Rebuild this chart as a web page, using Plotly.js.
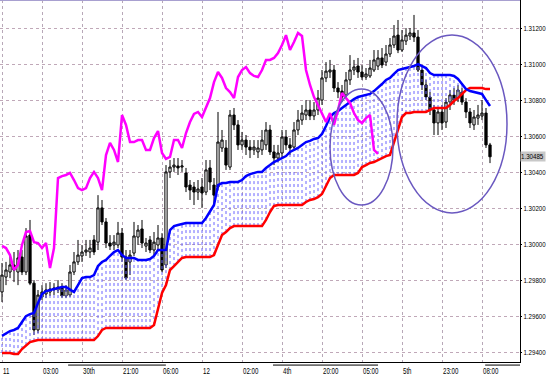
<!DOCTYPE html>
<html>
<head>
<meta charset="utf-8">
<script src="https://cdn.plot.ly/plotly-3.0.1.min.js"></script>
<style>html,body{margin:0;padding:0;background:#fff;}#chart{width:548px;height:378px;}</style>
</head>
<body>
<div id="chart"></div>
<script>
// ---- data ----
const barOpen = [1.29734,1.29817,1.29845,1.29884,1.29845,1.29928,1.29845,1.30050,1.29783,1.29523,
1.29706,1.29723,1.29734,1.29745,1.29745,1.29761,1.29712,1.29717,1.29845,1.29901,
1.29934,1.29956,1.29956,1.30023,1.30011,1.30201,1.30123,1.30006,1.29995,1.29995,
1.30061,1.29928,1.29901,1.29950,1.30039,1.30084,1.29989,1.30023,1.29967,1.29995,
1.30034,1.29884,1.30401,1.30428,1.30434,1.30428,1.30395,1.30328,1.30317,1.30289,
1.30317,1.30289,1.30423,1.30328,1.30317,1.30534,1.30534,1.30428,1.30717,1.30662,
1.30551,1.30578,1.30539,1.30523,1.30512,1.30523,1.30551,1.30634,1.30512,1.30478,
1.30506,1.30595,1.30551,1.30539,1.30634,1.30689,1.30717,1.30745,1.30712,1.30745,
1.30800,1.30923,1.30956,1.30967,1.30867,1.30850,1.30828,1.30912,1.30967,1.30989,
1.30956,1.30928,1.30934,1.30967,1.30989,1.31034,1.31011,1.31056,1.31106,1.31161,
1.31078,1.31128,1.31156,1.31173,1.31150,1.30967,1.30884,1.30817,1.30745,1.30673,
1.30734,1.30678,1.30789,1.30828,1.30811,1.30845,1.30789,1.30734,1.30662,1.30700,
1.30712,1.30728,1.30551];
const barHigh = [1.29895,1.29901,1.29939,1.29956,1.29967,1.29967,1.30089,1.30134,1.29800,1.29745,
1.29772,1.29783,1.29789,1.29783,1.29800,1.29783,1.29772,1.29884,1.29956,1.30023,
1.29995,1.30023,1.30023,1.30050,1.30272,1.30245,1.30145,1.30050,1.30050,1.30123,
1.30089,1.29967,1.29967,1.30123,1.30106,1.30134,1.30034,1.30045,1.30067,1.30106,
1.30061,1.30439,1.30467,1.30478,1.30478,1.30467,1.30423,1.30356,1.30345,1.30356,
1.30367,1.30467,1.30467,1.30367,1.30734,1.30634,1.30578,1.30745,1.30756,1.30689,
1.30623,1.30606,1.30578,1.30578,1.30578,1.30634,1.30678,1.30662,1.30551,1.30551,
1.30634,1.30634,1.30589,1.30678,1.30745,1.30773,1.30800,1.30800,1.30789,1.30856,
1.30967,1.31011,1.31023,1.30995,1.30900,1.30884,1.30956,1.31050,1.31023,1.31034,
1.30995,1.30978,1.31023,1.31078,1.31078,1.31089,1.31106,1.31145,1.31217,1.31245,
1.31189,1.31200,1.31200,1.31273,1.31189,1.30995,1.30912,1.30845,1.30773,1.30756,
1.30773,1.30811,1.30856,1.30867,1.30884,1.30867,1.30811,1.30756,1.30745,1.30773,
1.30800,1.30756,1.30562];
const barLow = [1.29678,1.29772,1.29811,1.29789,1.29772,1.29828,1.29828,1.29772,1.29495,1.29506,
1.29689,1.29700,1.29712,1.29717,1.29728,1.29700,1.29700,1.29706,1.29828,1.29884,
1.29901,1.29934,1.29923,1.29939,1.29967,1.30106,1.29978,1.29967,1.29967,1.29978,
1.29901,1.29800,1.29828,1.29934,1.29995,1.29978,1.29956,1.29950,1.29939,1.29967,
1.29845,1.29867,1.30367,1.30401,1.30384,1.30401,1.30289,1.30245,1.30217,1.30245,
1.30201,1.30272,1.30300,1.30217,1.30300,1.30512,1.30412,1.30412,1.30634,1.30523,
1.30523,1.30495,1.30478,1.30495,1.30478,1.30495,1.30523,1.30495,1.30439,1.30456,
1.30478,1.30523,1.30495,1.30523,1.30606,1.30662,1.30689,1.30689,1.30689,1.30717,
1.30773,1.30900,1.30923,1.30845,1.30811,1.30789,1.30811,1.30884,1.30939,1.30923,
1.30912,1.30912,1.30923,1.30956,1.30967,1.30978,1.30989,1.31039,1.31089,1.31061,
1.31067,1.31106,1.31134,1.31123,1.30956,1.30856,1.30800,1.30717,1.30606,1.30606,
1.30634,1.30645,1.30745,1.30773,1.30789,1.30773,1.30700,1.30645,1.30634,1.30662,
1.30689,1.30534,1.30450];
const barClose = [1.29828,1.29856,1.29884,1.29856,1.29923,1.29845,1.30045,1.29783,1.29523,1.29717,
1.29734,1.29745,1.29750,1.29756,1.29761,1.29712,1.29745,1.29845,1.29901,1.29939,
1.29956,1.29967,1.29978,1.29956,1.30201,1.30123,1.30006,1.29989,1.30011,1.30061,
1.29928,1.29811,1.29939,1.30045,1.30078,1.30006,1.30006,1.29967,1.30011,1.30034,
1.29856,1.30401,1.30428,1.30439,1.30423,1.30434,1.30317,1.30300,1.30289,1.30306,
1.30284,1.30412,1.30345,1.30272,1.30567,1.30578,1.30439,1.30717,1.30662,1.30551,
1.30578,1.30539,1.30523,1.30539,1.30534,1.30578,1.30634,1.30512,1.30478,1.30506,
1.30595,1.30551,1.30534,1.30634,1.30689,1.30728,1.30745,1.30712,1.30745,1.30811,
1.30923,1.30961,1.30967,1.30867,1.30845,1.30817,1.30912,1.30967,1.30984,1.30956,
1.30928,1.30945,1.30978,1.31023,1.31034,1.30995,1.31056,1.31106,1.31156,1.31078,
1.31134,1.31161,1.31173,1.31150,1.30967,1.30884,1.30817,1.30745,1.30673,1.30734,
1.30673,1.30789,1.30828,1.30800,1.30856,1.30789,1.30734,1.30673,1.30706,1.30717,
1.30728,1.30551,1.30485];
const laggingLine = [1.29990,1.29978,1.29939,1.29856,1.29884,1.29995,1.30067,1.30073,1.30011,1.30006,
1.29978,1.30006,1.29867,1.29978,1.30367,1.30378,1.30384,1.30395,1.30356,1.30311,
1.30300,1.30311,1.30367,1.30401,1.30367,1.30300,1.30495,1.30562,1.30523,1.30456,
1.30717,1.30662,1.30567,1.30567,1.30578,1.30578,1.30523,1.30523,1.30589,1.30628,
1.30506,1.30473,1.30484,1.30578,1.30578,1.30534,1.30617,1.30678,1.30723,1.30734,
1.30706,1.30756,1.30811,1.30900,1.30956,1.30923,1.30867,1.30845,1.30811,1.30928,
1.30967,1.30984,1.30950,1.30934,1.30928,1.30967,1.31023,1.31023,1.31034,1.31061,
1.31106,1.31161,1.31078,1.31123,1.31173,1.31156,1.30967,1.30884,1.30817,1.30773,
1.30728,1.30678,1.30728,1.30662,1.30745,1.30839,1.30811,1.30784,1.30728,1.30689,
1.30673,1.30700,1.30717,1.30523,1.30501];
const blueLine = [1.29490,1.29506,1.29517,1.29523,1.29534,1.29567,1.29600,1.29611,1.29617,1.29673,
1.29723,1.29739,1.29745,1.29750,1.29756,1.29761,1.29761,1.29745,1.29734,1.29772,
1.29811,1.29817,1.29817,1.29828,1.29878,1.29901,1.29912,1.29934,1.29956,1.29967,
1.29939,1.29923,1.29923,1.29923,1.29912,1.29912,1.29912,1.29917,1.29934,1.29967,
1.29967,1.29967,1.30078,1.30100,1.30106,1.30112,1.30117,1.30117,1.30117,1.30117,
1.30117,1.30145,1.30178,1.30217,1.30328,1.30339,1.30339,1.30345,1.30345,1.30345,
1.30356,1.30378,1.30389,1.30395,1.30401,1.30401,1.30423,1.30439,1.30456,1.30467,
1.30478,1.30489,1.30512,1.30523,1.30534,1.30551,1.30567,1.30573,1.30584,1.30589,
1.30612,1.30656,1.30706,1.30728,1.30739,1.30756,1.30773,1.30789,1.30806,1.30817,
1.30823,1.30828,1.30834,1.30850,1.30867,1.30889,1.30912,1.30923,1.30945,1.30967,
1.30973,1.30978,1.30984,1.30989,1.31000,1.30989,1.30978,1.30950,1.30939,1.30939,
1.30939,1.30939,1.30939,1.30934,1.30917,1.30889,1.30861,1.30850,1.30845,1.30839,
1.30834,1.30800,1.30767];
const redLine = [1.29395,1.29395,1.29395,1.29389,1.29389,1.29417,1.29439,1.29456,1.29462,1.29467,
1.29467,1.29467,1.29467,1.29467,1.29467,1.29467,1.29467,1.29467,1.29467,1.29467,
1.29467,1.29467,1.29467,1.29467,1.29489,1.29523,1.29534,1.29534,1.29534,1.29534,
1.29534,1.29534,1.29534,1.29534,1.29534,1.29534,1.29534,1.29534,1.29550,1.29634,
1.29728,1.29772,1.29856,1.29878,1.29901,1.29923,1.29928,1.29928,1.29928,1.29928,
1.29928,1.29928,1.29928,1.29939,1.29995,1.30050,1.30067,1.30089,1.30100,1.30100,
1.30100,1.30100,1.30100,1.30100,1.30100,1.30100,1.30134,1.30178,1.30212,1.30217,
1.30217,1.30217,1.30217,1.30217,1.30217,1.30217,1.30234,1.30245,1.30250,1.30261,
1.30278,1.30323,1.30367,1.30384,1.30384,1.30384,1.30384,1.30384,1.30384,1.30395,
1.30428,1.30439,1.30451,1.30456,1.30467,1.30478,1.30489,1.30495,1.30567,1.30634,
1.30706,1.30728,1.30728,1.30734,1.30734,1.30734,1.30734,1.30745,1.30756,1.30756,
1.30756,1.30756,1.30773,1.30795,1.30811,1.30834,1.30856,1.30867,1.30867,1.30867,
1.30867,1.30861,1.30861];
const xTickBars = [0,10,20,30,40,50,60,70,80,90,100,110,120];
const xTickLabels = ['11','03:00','30th','21:00','06:00','12','02:00','4th','20:00','05:00','5th','23:00','08:00'];
const yTickVals = [1.294,1.296,1.298,1.300,1.302,1.304,1.306,1.308,1.310,1.312];
const yTickLabels = ['1.29400','1.29600','1.29800','1.30000','1.30200','1.30400','1.30600','1.30800','1.31000','1.31200'];
const lastPrice = 1.30485;
const ellipses = [
  {x0: 82, x1: 97.75, y0: 1.30217, y1: 1.30862},
  {x0: 98.75, x1: 126.25, y0: 1.30173, y1: 1.31161}
];

// ---- build traces ----
const barX = barClose.map((_, i) => i);
const lagX = laggingLine.map((_, i) => i);
const cloudX = [], cloudY = [];
for (let i = 0; i < blueLine.length; i++) {
  if (blueLine[i] > redLine[i]) {
    cloudX.push(i, i, null);
    cloudY.push(redLine[i], blueLine[i], null);
  }
}
const FONT = "'Liberation Sans',Arial,sans-serif";

const traces = [
  {type: 'scatter', mode: 'lines', x: cloudX, y: cloudY, connectgaps: false,
   line: {color: '#6a64ff', width: 1, dash: 'dot'}, hoverinfo: 'skip', showlegend: false},
  {type: 'candlestick', x: barX, open: barOpen, high: barHigh, low: barLow, close: barClose,
   increasing: {line: {color: '#000000', width: 1}, fillcolor: '#ffffff'},
   decreasing: {line: {color: '#000000', width: 1}, fillcolor: '#000000'},
   whiskerwidth: 0, hoverinfo: 'skip', showlegend: false},
  {type: 'scatter', mode: 'lines', x: barX, y: redLine, line: {color: '#ff0000', width: 2.5}, hoverinfo: 'skip', showlegend: false},
  {type: 'scatter', mode: 'lines', x: barX, y: blueLine, line: {color: '#0000ff', width: 2.5}, hoverinfo: 'skip', showlegend: false},
  {type: 'scatter', mode: 'lines', x: lagX, y: laggingLine, line: {color: '#ff00ff', width: 2.5}, hoverinfo: 'skip', showlegend: false}
];

const shapes = ellipses.map(e => ({type: 'circle', xref: 'x', yref: 'y', x0: e.x0, x1: e.x1, y0: e.y0, y1: e.y1,
  line: {color: '#6a58c0', width: 1.5}, layer: 'above'}));
shapes.push({type: 'line', xref: 'paper', yref: 'paper', x0: 0, x1: 1, y0: 1, y1: 1, line: {color: '#a8a0d0', width: 2}});
[[0.131, 0.319], [0.525, 0.727], [0.933, 1.0]].forEach(s => {
  shapes.push({type: 'line', xref: 'paper', yref: 'paper', x0: s[0], x1: s[1], y0: -0.0085, y1: -0.0085,
    line: {color: '#000000', width: 1}});
});

const annotations = xTickBars.map((b, k) => ({
  xref: 'x', yref: 'paper', x: b, y: -0.024, xanchor: 'left', yanchor: 'middle', align: 'left',
  text: xTickLabels[k], showarrow: false, borderpad: 0, font: {family: FONT, size: 9, color: '#000'}
}));
annotations.push({xref: 'paper', yref: 'y', x: 1, y: lastPrice, xanchor: 'left', yanchor: 'middle', align: 'left',
  width: 24, height: 9, borderpad: 0, text: lastPrice.toFixed(5), showarrow: false, bgcolor: '#c8c8c8',
  font: {family: FONT, size: 7, color: '#000'}});

const layout = {
  width: 548, height: 378,
  margin: {l: 0, r: 28, t: 0, b: 16, pad: 0},
  paper_bgcolor: '#ffffff', plot_bgcolor: '#ffffff',
  showlegend: false, hovermode: false, boxgap: 0.2,
  font: {family: FONT, size: 9, color: '#000'},
  xaxis: {range: [-0.5, 129.5], tickvals: xTickBars, showticklabels: false, ticks: '',
    showgrid: true, gridcolor: '#b8a8b8', griddash: 'dot', gridwidth: 1,
    zeroline: false, showline: true, linecolor: '#000', linewidth: 1,
    rangeslider: {visible: false}, fixedrange: true},
  yaxis: {side: 'right', range: [1.29345, 1.31356], tickmode: 'array', tickvals: yTickVals, ticktext: yTickLabels,
    showgrid: true, gridcolor: '#c0a8b8', griddash: 'dot', gridwidth: 1,
    zeroline: false, showline: true, linecolor: '#000', linewidth: 1,
    ticks: 'outside', ticklen: 1, tickcolor: '#000',
    tickfont: {family: FONT, size: 7, color: '#000'}, fixedrange: true},
  shapes: shapes,
  annotations: annotations
};

Plotly.newPlot('chart', traces, layout, {displayModeBar: false, staticPlot: true}).then(gd => {
  // the reference uses a narrow terminal font: compress the real text horizontally
  const squeeze = (el, f) => {
    const L = el.getComputedTextLength();
    if (L > 0) {
      el.setAttribute('textLength', (L * f).toFixed(2));
      el.setAttribute('lengthAdjust', 'spacingAndGlyphs');
    }
  };
  gd.querySelectorAll('.ytick text').forEach(t => squeeze(t, 0.88));
  gd.querySelectorAll('.annotation-text').forEach(t => {
    squeeze(t, t.textContent.indexOf('.') >= 0 ? 0.88 : 0.68);
  });
});
</script>
</body>
</html>
